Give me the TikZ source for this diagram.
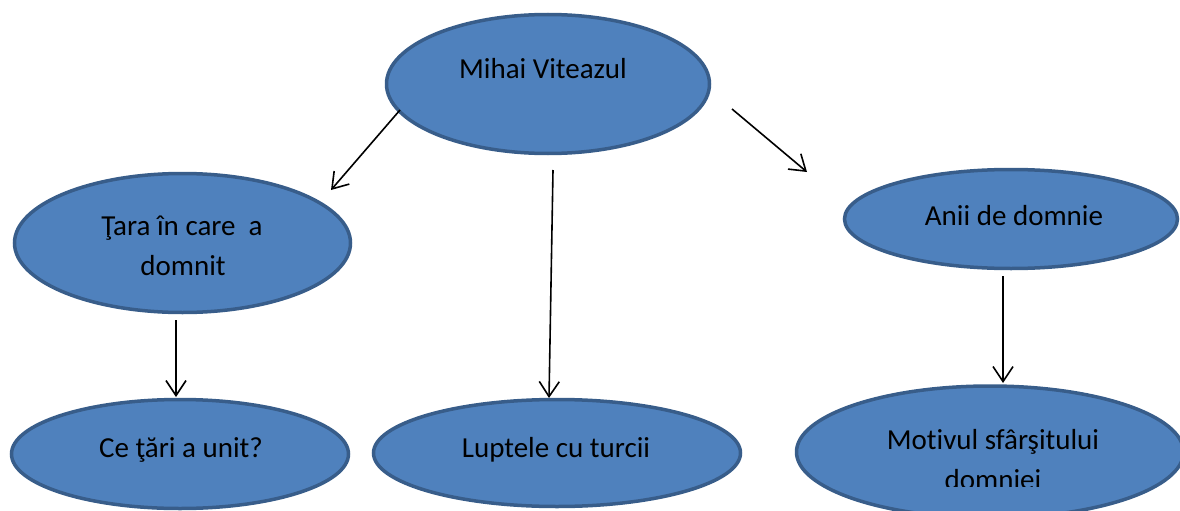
\documentclass[tikz,border=0pt]{standalone}
\usepackage{fontspec}
\setmainfont{Carlito}[Ligatures={NoCommon}]
\usetikzlibrary{shapes.geometric,arrows.meta}
\definecolor{bubfill}{HTML}{4F81BD}
\definecolor{bubline}{HTML}{385D8A}
\tikzset{
  bub/.style={ellipse, draw=bubline, fill=bubfill, line width=3.5pt, inner sep=0pt},
  txt/.style={anchor=base, inner sep=0pt, font=\fontsize{29}{40}\selectfont, text=black},
  arr/.style={line width=1.6pt, -{Straight Barb[length=15pt,width=20pt]}}
}
\begin{document}
\begin{tikzpicture}[x=1pt,y=-1pt]
\useasboundingbox (0,0) rectangle (1180,511);
\clip (0,0) rectangle (1180,511);
% ellipses
\node[bub, minimum width=323pt, minimum height=139pt] (mihai) at (548,84) {};
\node[bub, minimum width=336pt, minimum height=139pt] (tara) at (182.5,243) {};
\node[bub, minimum width=333pt, minimum height=99pt] (anii) at (1011,219) {};
\node[bub, minimum width=337pt, minimum height=109pt] (ce) at (180,454) {};
\node[bub, minimum width=367pt, minimum height=107pt] (lupte) at (557,453) {};
\node[bub, minimum width=387pt, minimum height=132pt] (motiv) at (990,452) {};
% texts
\node[txt] (mihaiT) at (543,78) {Mihai Viteazul};
\node[txt] (tara1) at (182,235) {Ţara în care~ a};
\node[txt] (tara2) at (183,275) {domnit};
\node[txt] (aniiT) at (1014,225) {Anii de domnie};
\node[txt] (ceT) at (181,457) {Ce ţări a unit?};
\node[txt] (lupteT) at (556,457) {Luptele cu turcii};
\node[txt] (motiv1) at (993,449) {Motivul sfârşitului};
\begin{scope}
\clip (800,455) rectangle (1180,486.5);
\node[txt] (motiv2) at (993,489) {domniei};
\end{scope}
% arrow ends
\coordinate (a1s) at (400,110); \coordinate (a1e) at (331,190);
\coordinate (a2s) at (553,170); \coordinate (a2e) at (549,398);
\coordinate (a3s) at (732,109); \coordinate (a3e) at (807,172);
\coordinate (a4s) at (176,320); \coordinate (a4e) at (176,397);
\coordinate (a5s) at (1003,276); \coordinate (a5e) at (1003,383);
\draw[arr] (a1s) -- (a1e);
\draw[arr] (a2s) -- (a2e);
\draw[arr] (a3s) -- (a3e);
\draw[arr] (a4s) -- (a4e);
\draw[arr] (a5s) -- (a5e);
\end{tikzpicture}
\end{document}
